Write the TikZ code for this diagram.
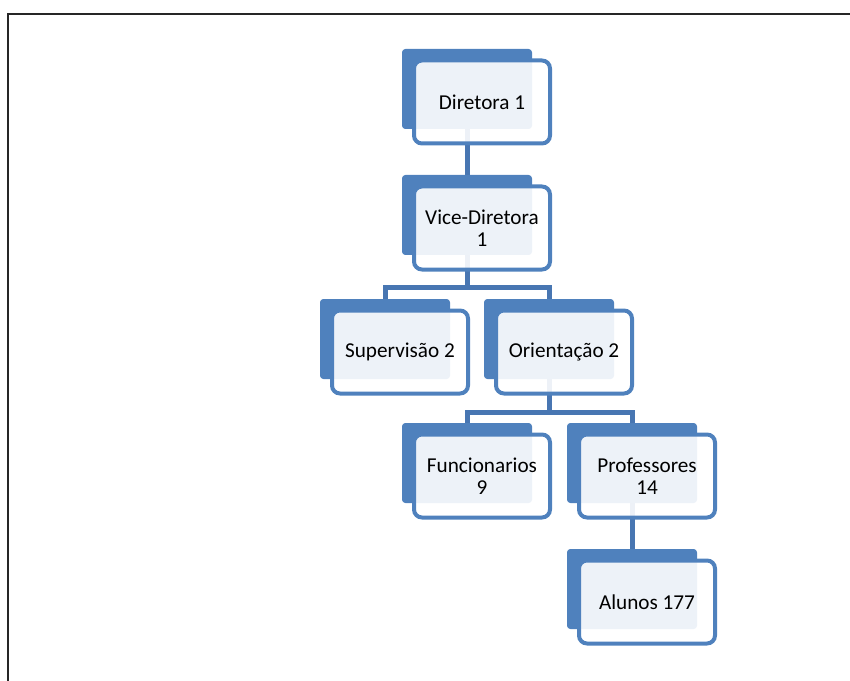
\documentclass[tikz,border=0pt]{standalone}
\usepackage{fontspec}
\setmainfont{Carlito}
\usetikzlibrary{positioning, backgrounds, calc}
\definecolor{orgblue}{RGB}{79,129,189}
\definecolor{linkblue}{RGB}{72,118,178}
\tikzset{
    backbox/.style={
        rectangle, rounded corners=2.5pt,
        fill=orgblue, inner sep=0pt,
        minimum width=97.5pt, minimum height=60pt
    },
    frontbox/.style={
        rectangle, rounded corners=6pt,
        draw=orgblue, line width=3pt,
        fill=white, fill opacity=0.9, text opacity=1,
        minimum width=102pt, minimum height=62.25pt,
        font=\fontsize{15.9}{16.5}\selectfont, align=center, inner sep=2pt
    },
    link/.style={draw=linkblue, line width=3.75pt},
    frame/.style={draw=black!85, line width=1.5pt}
}

\begin{document}
\begin{tikzpicture}[x=0.75pt, y=-0.75pt]
    \useasboundingbox (0,0) rectangle (850,681);
    % back blocks
    \node[backbox] (dir-b) at (467,89) {};
    \node[backbox] (vice-b) at (467,215) {};
    \node[backbox] (sup-b) at (385,339) {};
    \node[backbox] (ori-b) at (549,339) {};
    \node[backbox] (fun-b) at (467,463) {};
    \node[backbox] (pro-b) at (632,463) {};
    \node[backbox] (alu-b) at (632,589) {};
    % front blocks with the texts
    \node[frontbox] (dir) at ([shift={(15,13)}]dir-b.center) {Diretora 1};
    \node[frontbox] (vice) at ([shift={(15,13)}]vice-b.center) {Vice-Diretora\\1};
    \node[frontbox] (sup) at ([shift={(15,13)}]sup-b.center) {Supervisão 2};
    \node[frontbox] (ori) at ([shift={(15,13)}]ori-b.center) {Orientação 2};
    \node[frontbox] (fun) at ([shift={(15,13)}]fun-b.center) {Funcionarios\\9};
    \node[frontbox] (pro) at ([shift={(15,13)}]pro-b.center) {Professores\\14};
    \node[frontbox] (alu) at ([shift={(15,13)}]alu-b.center) {Alunos 177};
    \begin{scope}[on background layer]
        \draw[frame] (7.5,681) -- (7.5,14.5) -- (851,14.5);
        \draw[link] (dir-b.south) -- (vice-b.north);
        \draw[link] (vice-b.south) -- ++(0,32) -| (sup-b.north);
        \draw[link] (vice-b.south) -- ++(0,32) -| (ori-b.north);
        \draw[link] (ori-b.south) -- ++(0,33) -| (fun-b.north);
        \draw[link] (ori-b.south) -- ++(0,33) -| (pro-b.north);
        \draw[link] (pro-b.south) -- (alu-b.north);
    \end{scope}
\end{tikzpicture}
\end{document}
